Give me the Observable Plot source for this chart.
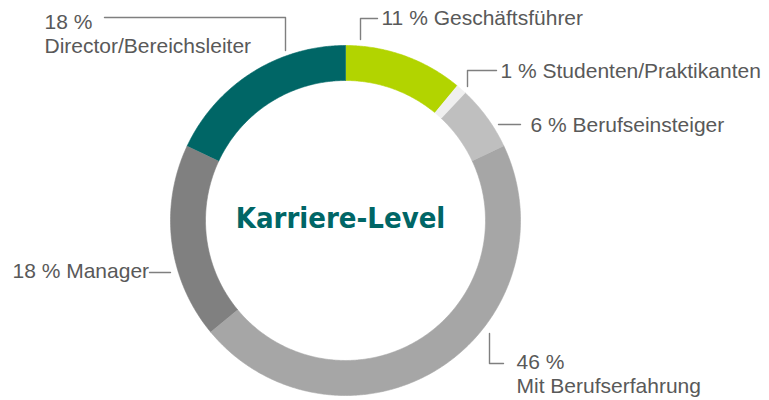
<!DOCTYPE html>
<html>
<head>
<meta charset="utf-8">
<script src="https://cdn.jsdelivr.net/npm/d3@7"></script>
<script src="https://cdn.jsdelivr.net/npm/@observablehq/plot@0.6"></script>
<style>
  html, body { margin: 0; padding: 0; background: #fff; }
  #chart svg { display: block; }
</style>
</head>
<body>
<div id="chart"></div>
<script>
// ---- data ----
const categories = ["Geschäftsführer", "Studenten/Praktikanten", "Berufseinsteiger", "Mit Berufserfahrung", "Manager", "Director/Bereichsleiter"];
const shares = [11, 1, 6, 46, 18, 18];
const colors = ["#b2d400", "#efefef", "#bfbfbf", "#a6a6a6", "#808080", "#006666"];
const title = "Karriere-Level";

// ---- layout ----
const W = 769, H = 400;
const cx = 345, cy = 220, R = 175, r = 140;
const unit = R; // 1 data unit = outer radius
const xDomain = [-cx / unit, (W - cx) / unit];
const yDomain = [-(H - cy) / unit, cy / unit];
const px = (X) => (X - cx) / unit;   // pixel -> data x
const py = (Y) => (cy - Y) / unit;   // pixel -> data y

// donut polygons built from the shares
const total = d3.sum(shares);
const ringPts = [];
let acc = 0;
categories.forEach((c, i) => {
  const a0 = acc / total * 2 * Math.PI;
  acc += shares[i];
  const a1 = acc / total * 2 * Math.PI;
  const n = Math.max(2, Math.ceil((a1 - a0) / (Math.PI / 360)));
  const ri = r / R;
  for (let k = 0; k <= n; k++) {
    const a = a0 + (a1 - a0) * k / n;
    ringPts.push({cat: c, x: Math.sin(a), y: Math.cos(a)});
  }
  for (let k = n; k >= 0; k--) {
    const a = a0 + (a1 - a0) * k / n;
    ringPts.push({cat: c, x: ri * Math.sin(a), y: ri * Math.cos(a)});
  }
});

// label layout (pixels), keyed by category index
const labelLayout = [
  {lines: [`${shares[0]} % ${categories[0]}`], x: 381, y: 18, leader: [[360, 39], [360, 18], [377, 18]]},
  {lines: [`${shares[1]} % ${categories[1]}`], x: 500, y: 71, leader: [[467, 86], [467, 70], [496, 70]]},
  {lines: [`${shares[2]} % ${categories[2]}`], x: 530, y: 125, leader: [[498, 124], [520, 124]]},
  {lines: [`${shares[3]} %`, categories[3]], x: 516, y: 362, leader: [[489, 333], [489, 363], [503, 363]]},
  {lines: [`${shares[4]} % ${categories[4]}`], x: 12, y: 271, leader: [[149, 272], [170, 272]]},
  {lines: [`${shares[5]} %`, categories[5]], x: 44, y: 22, leader: [[104, 17], [285, 17], [285, 50]]}
];

const textPts = [];
const leaderPts = [];
labelLayout.forEach((L, i) => {
  L.lines.forEach((t, j) => textPts.push({text: t, x: px(L.x), y: py(L.y + j * 24)}));
  L.leader.forEach(([X, Y]) => leaderPts.push({id: i, x: px(X), y: py(Y)}));
});

const chart = Plot.plot({
  width: W,
  height: H,
  margin: 0,
  x: {domain: xDomain, axis: null},
  y: {domain: yDomain, axis: null},
  color: {domain: categories, range: colors},
  marks: [
    Plot.line(ringPts, {x: "x", y: "y", z: "cat", fill: "cat", stroke: "cat", strokeWidth: 0.6, curve: "linear"}),
    Plot.line(leaderPts, {x: "x", y: "y", z: "id", stroke: "#7f7f7f", strokeWidth: 1.4}),
    Plot.text(textPts, {x: "x", y: "y", text: "text", textAnchor: "start", fill: "#595959",
      fontFamily: "'Liberation Sans', Arial, sans-serif", fontSize: 21}),
    Plot.text([title], {x: () => px(340), y: () => py(218), text: d => d, fill: "#006666",
      fontFamily: "'DejaVu Sans Condensed', sans-serif", fontWeight: "bold", fontSize: 29})
  ]
});
document.getElementById("chart").append(chart);
</script>
</body>
</html>
